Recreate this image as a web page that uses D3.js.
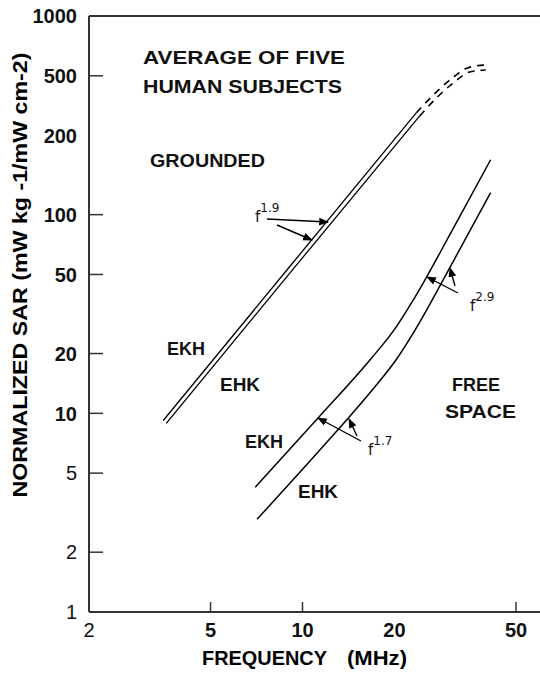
<!DOCTYPE html>
<html><head><meta charset="utf-8">
<script src="https://cdn.jsdelivr.net/npm/d3@7"></script>
<style>
html,body{margin:0;padding:0;background:#fff;}
svg{display:block;font-family:"Liberation Sans",Arial,sans-serif;}
</style></head>
<body><svg id="chart" width="540" height="673"></svg>
<script>
// ---- data (frequency in MHz, normalized SAR) ----
const groundedEKH_f   = [3.50, 9.1, 23.6];
const groundedEKH_sar = [9.2, 55, 326];
const groundedEHK_f   = [3.58, 9.3, 24.2];
const groundedEHK_sar = [8.9, 53, 314];
const groundedEKHext_f   = [23.6, 27.9, 31.0, 34.7, 39.8];
const groundedEKHext_sar = [326, 425, 488, 548, 567];
const groundedEHKext_f   = [24.2, 28.3, 31.5, 35.2, 39.8];
const groundedEHKext_sar = [314, 405, 466, 523, 535];
const freeEKH_f   = [7.0, 11.3, 16.7, 20.2, 23.1, 31.0, 41.3];
const freeEKH_sar = [4.25, 9.55, 18.7, 27.0, 37.4, 84, 189];
const freeEHK_f   = [7.1, 11.3, 16.7, 20.2, 23.1, 31.0, 41.3];
const freeEHK_sar = [2.93, 6.44, 12.8, 18.5, 25.5, 57.4, 129];

const xTickValues  = [5, 10, 50];
const xTickLabels  = [2, 5, 10, 20, 50];
const yTickValues  = [2, 5, 10, 20, 50, 100, 500];
const yTickLabels  = [1, 2, 5, 10, 20, 50, 100, 200, 500, 1000];

const svg = d3.select("#chart");
const x = d3.scaleLog().domain([2, 50]).range([89, 516]);
const y = d3.scaleLog().domain([1, 1000]).range([612, 16]);
const xRight = 540;

const zip = (fs, vs) => fs.map((f, i) => [f, vs[i]]);

// frame
const frame = svg.append("g").attr("stroke", "#333").attr("stroke-width", 2).attr("fill", "none");
frame.append("line").attr("x1", x(2)).attr("x2", x(2)).attr("y1", y(1000)).attr("y2", y(1));
frame.append("line").attr("x1", x(2)).attr("x2", xRight).attr("y1", y(1)).attr("y2", y(1));
frame.append("line").attr("x1", x(2)).attr("x2", xRight).attr("y1", y(1000)).attr("y2", y(1000));

// ticks
svg.append("g").selectAll("line").data(xTickValues).join("line")
  .attr("x1", d => x(d)).attr("x2", d => x(d))
  .attr("y1", y(1)).attr("y2", y(1) - 10)
  .attr("stroke", "#333").attr("stroke-width", 1.5);
svg.append("g").selectAll("line").data(yTickValues).join("line")
  .attr("x1", x(2)).attr("x2", x(2) + 14)
  .attr("y1", d => y(d)).attr("y2", d => y(d))
  .attr("stroke", "#333").attr("stroke-width", 1.5);

// tick labels
const light = new Set([1, 2, 5]);
const yLabelShift = {200: -19};
svg.append("g").selectAll("text").data(yTickLabels).join("text")
  .attr("x", 77).attr("y", d => y(d) + (yLabelShift[d] || 0)).attr("dy", "0.36em")
  .attr("text-anchor", "end").attr("font-size", 20)
  .attr("font-weight", d => light.has(d) ? "normal" : "bold")
  .attr("fill", "#111")
  .text(d => d);
svg.append("g").selectAll("text").data(xTickLabels).join("text")
  .attr("x", d => x(d)).attr("y", 637)
  .attr("text-anchor", "middle").attr("font-size", 20)
  .attr("font-weight", d => d === 2 ? "normal" : "bold")
  .attr("fill", "#111")
  .text(d => d);

// axis titles
svg.append("text").attr("x", 202).attr("y", 665).attr("font-size", 20).attr("font-weight", "bold")
  .attr("textLength", 125).attr("lengthAdjust", "spacingAndGlyphs").text("FREQUENCY");
svg.append("text").attr("x", 347).attr("y", 665).attr("font-size", 20).attr("font-weight", "bold")
  .attr("textLength", 60).attr("lengthAdjust", "spacingAndGlyphs").text("(MHz)");
svg.append("text").attr("transform", "translate(27,275) rotate(-90)")
  .attr("text-anchor", "middle").attr("font-size", 20).attr("font-weight", "bold")
  .attr("textLength", 445).attr("lengthAdjust", "spacingAndGlyphs")
  .text("NORMALIZED SAR (mW kg -1/mW cm-2)");

// curves
const lin = d3.line().x(d => x(d[0])).y(d => y(d[1]));
const smooth = d3.line().x(d => x(d[0])).y(d => y(d[1])).curve(d3.curveMonotoneX);
const curves = svg.append("g").attr("fill", "none").attr("stroke", "#000");
[[groundedEKH_f, groundedEKH_sar], [groundedEHK_f, groundedEHK_sar]].forEach(([f, v]) =>
  curves.append("path").attr("d", lin(zip(f, v))).attr("stroke-width", 1.3));
[[groundedEKHext_f, groundedEKHext_sar], [groundedEHKext_f, groundedEHKext_sar]].forEach(([f, v]) =>
  curves.append("path").attr("d", smooth(zip(f, v))).attr("stroke-width", 1.6)
    .attr("stroke-dasharray", "7,6"));
[[freeEKH_f, freeEKH_sar], [freeEHK_f, freeEHK_sar]].forEach(([f, v]) =>
  curves.append("path").attr("d", smooth(zip(f, v))).attr("stroke-width", 1.5));

// text annotations
const labels = [
  {t: "AVERAGE OF FIVE", x: 143, y: 64, w: 202},
  {t: "HUMAN SUBJECTS", x: 143, y: 93, w: 199},
  {t: "GROUNDED", x: 150, y: 167, w: 115},
  {t: "EKH", x: 167, y: 355, w: 38},
  {t: "EHK", x: 220, y: 391, w: 40},
  {t: "EKH", x: 245, y: 448, w: 38},
  {t: "EHK", x: 298, y: 498, w: 40},
  {t: "FREE", x: 452, y: 391, w: 48},
  {t: "SPACE", x: 445, y: 418, w: 71}
];
svg.append("g").selectAll("text").data(labels).join("text")
  .attr("x", d => d.x).attr("y", d => d.y)
  .attr("font-size", 19).attr("font-weight", "bold").attr("fill", "#111")
  .attr("textLength", d => d.w).attr("lengthAdjust", "spacingAndGlyphs")
  .text(d => d.t);

// exponent labels
const exps = [
  {x: 255, y: 222, e: "1.9"},
  {x: 368, y: 455, e: "1.7"},
  {x: 470, y: 311, e: "2.9"}
];
exps.forEach(d => {
  const t = svg.append("text").attr("x", d.x).attr("y", d.y)
    .attr("font-family", "DejaVu Sans").attr("font-size", 15).attr("fill", "#111");
  t.append("tspan").text("f");
  t.append("tspan").attr("dy", -10).attr("font-size", 12).text(d.e);
});

// leader lines with arrowheads
svg.append("defs").append("marker").attr("id", "ah")
  .attr("viewBox", "0 0 10 10").attr("refX", 9).attr("refY", 5)
  .attr("markerWidth", 7).attr("markerHeight", 7).attr("orient", "auto")
  .append("path").attr("d", "M0,1L10,5L0,9Z").attr("fill", "#000");
const leaders = [
  [[267, 219], [328, 222]],
  [[277, 225], [312, 240]],
  [[361, 441], [318, 418]],
  [[357, 436], [349, 419]],
  [[458, 293], [427, 277]],
  [[455, 286], [450, 268]]
];
svg.append("g").selectAll("path").data(leaders).join("path")
  .attr("d", d => d3.line()(d)).attr("stroke", "#000").attr("stroke-width", 1.4)
  .attr("fill", "none").attr("marker-end", "url(#ah)");
</script></body></html>
